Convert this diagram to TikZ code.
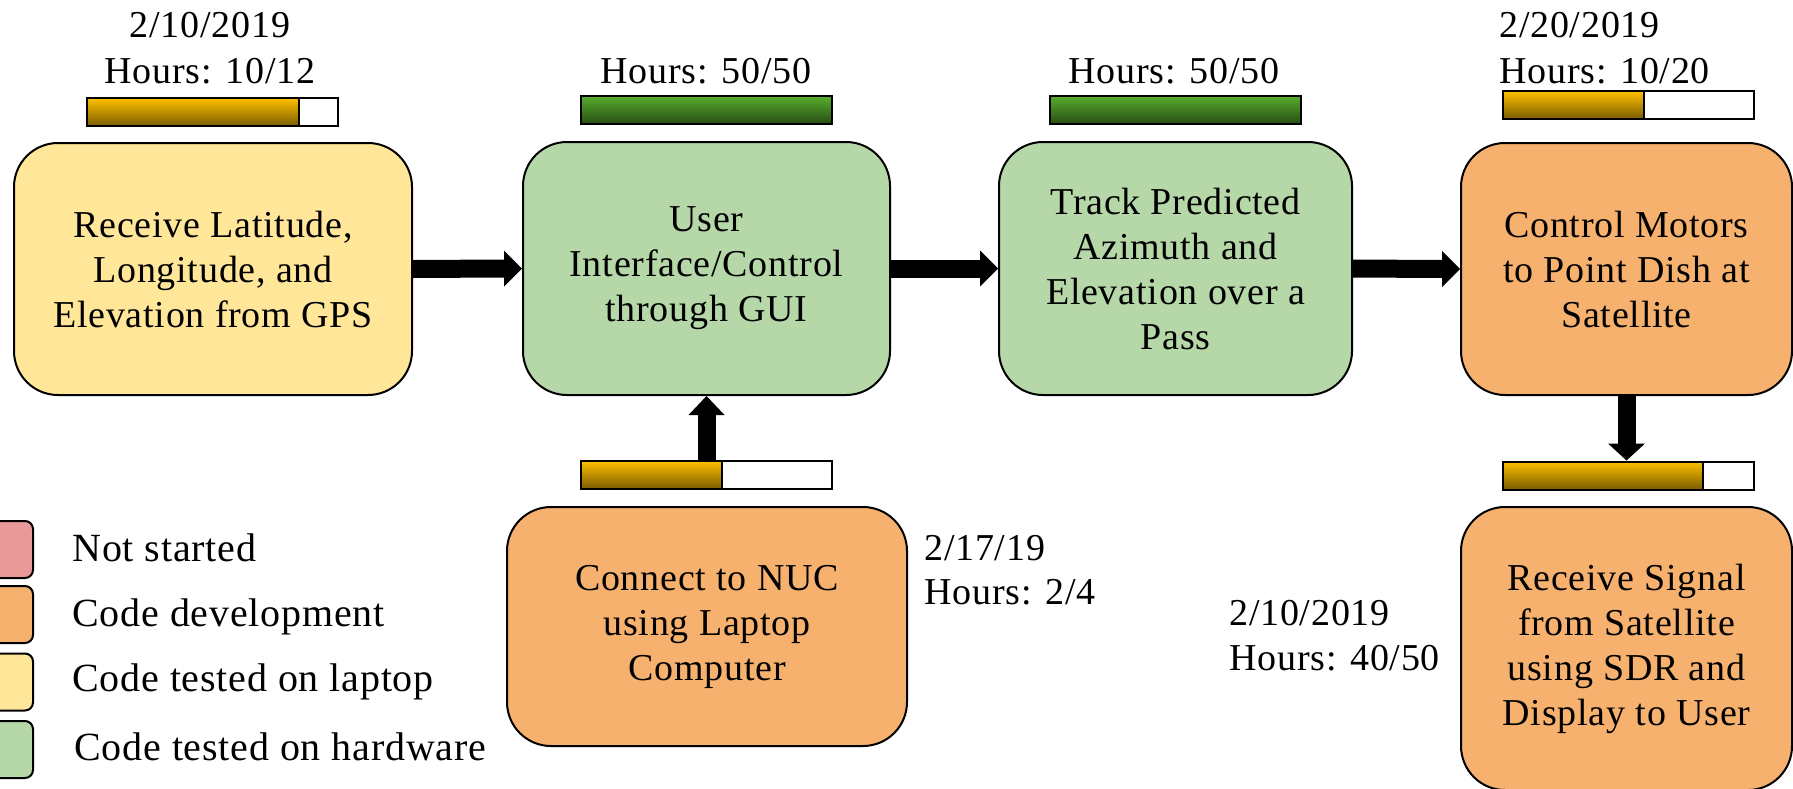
\documentclass[tikz,border=0pt]{standalone}
\usepackage{fontspec}
\setmainfont{Liberation Serif}[LetterSpace=2]
\usetikzlibrary{calc}

\definecolor{yel}{HTML}{FFE699}
\definecolor{grn}{HTML}{B6D7A8}
\definecolor{org}{HTML}{F5B16D}
\definecolor{pnk}{HTML}{EA9999}
\definecolor{goldtop}{HTML}{FFC000}
\definecolor{goldbot}{HTML}{7A5C00}
\definecolor{greentop}{HTML}{5AAE2E}
\definecolor{greenbot}{HTML}{264F12}

\begin{document}
\begin{tikzpicture}[x=0.5pt,y=-0.5pt,
  every node/.style={font=\fontsize{19pt}{22.5pt}\selectfont, inner sep=0pt},
  stepbox/.style={draw, line width=1pt, rounded corners=22pt, align=center},
  barbase/.style={draw, line width=1pt, minimum width=125.5pt, minimum height=14pt},
  goldbar/.style={barbase, fill=white,
    path picture={\draw[line width=1pt, top color=goldtop, bottom color=goldbot]
      (path picture bounding box.south west) rectangle
      ($(path picture bounding box.north west)!#1!(path picture bounding box.north east)$);}},
  greenbar/.style={barbase, top color=greentop, bottom color=greenbot},
  shaft/.style={line width=9pt},
  legsq/.style={draw, line width=1pt, rounded corners=4pt, minimum size=28.5pt},
  lbl/.style={anchor=base},
  lblleft/.style={anchor=base west},
  legtext/.style={anchor=base west, font=\fontsize{20pt}{24pt}\selectfont},
]
\useasboundingbox (0,0) rectangle (1793,788);

% process steps
\node[stepbox, fill=yel, minimum width=199pt, minimum height=126pt] (b1) at (213,269)
  {Receive Latitude,\\Longitude, and\\Elevation from GPS};
\node[stepbox, fill=grn, minimum width=183.5pt, minimum height=126.5pt] (b2) at (706.5,268.5)
  {User\\Interface/Control\\through GUI};
\node[stepbox, fill=grn, minimum width=176.5pt, minimum height=126.5pt] (b3) at (1175.5,268.5)
  {Track Predicted\\Azimuth and\\Elevation over a\\Pass};
\node[stepbox, fill=org, minimum width=165.5pt, minimum height=126pt] (b4) at (1626.5,269)
  {Control Motors\\to Point Dish at\\Satellite};
\node[stepbox, fill=org, minimum width=200pt, minimum height=119.5pt] (b5) at (707,626.5)
  {Connect to NUC\\using Laptop\\Computer};
\node[stepbox, fill=org, minimum width=165.5pt, minimum height=141.5pt] (b6) at (1626.5,648.5)
  {Receive Signal\\from Satellite\\using SDR and\\Display to User};

% progress bars
\node[goldbar=0.845] (p1) at (212.5,112) {};
\node[greenbar] (p2) at (706,109.5) {};
\node[greenbar] (p3) at (1175.5,109.5) {};
\node[goldbar=0.563] (p4) at (1628,105) {};
\node[goldbar=0.56] (p5) at (706.5,475) {};
\node[goldbar=0.80] (p6) at (1628,475.5) {};

% dates and hours
\node[lbl] (d1) at (210,37) {2/10/2019};
\node[lbl] (h1) at (210,83) {Hours: 10/12};
\node[lbl] (h2) at (706,83) {Hours: 50/50};
\node[lbl] (h3) at (1174,83) {Hours: 50/50};
\node[lblleft] (d4) at (1499,37) {2/20/2019};
\node[lblleft] (h4) at (1499,83) {Hours: 10/20};
\node[lblleft] (d5) at (924,560) {2/17/19};
\node[lblleft] (h5) at (924,604) {Hours: 2/4};
\node[lblleft] (d6) at (1229,625) {2/10/2019};
\node[lblleft] (h6) at (1229,670) {Hours: 40/50};

% flow arrows: thick shaft plus a triangular head ending on the target
\draw[shaft] (b1.east) -- ($(b2.west)+(-17,0)$);
\fill ($(b2.west)+(-18,-18)$) -- (b2.west) -- ($(b2.west)+(-18,18)$) -- cycle;
\draw[shaft] (b2.east) -- ($(b3.west)+(-17,0)$);
\fill ($(b3.west)+(-18,-18)$) -- (b3.west) -- ($(b3.west)+(-18,18)$) -- cycle;
\draw[shaft] (b3.east) -- ($(b4.west)+(-17,0)$);
\fill ($(b4.west)+(-18,-18)$) -- (b4.west) -- ($(b4.west)+(-18,18)$) -- cycle;
\draw[shaft] (p5.north) -- ($(b2.south)+(0,18)$);
\fill ($(b2.south)+(-18,19)$) -- (b2.south) -- ($(b2.south)+(18,19)$) -- cycle;
\coordinate (dtip) at (b4.south |- p6.north);
\draw[shaft] (b4.south) -- ($(dtip)+(0,-16)$);
\fill ($(dtip)+(-18.5,-17)$) -- (dtip) -- ($(dtip)+(18.5,-17)$) -- cycle;

% legend
\node[legsq, fill=pnk] (k1) at (4.5,549.5) {};
\node[legsq, fill=org] (k2) at (4.5,614.5) {};
\node[legsq, fill=yel] (k3) at (4.5,682) {};
\node[legsq, fill=grn] (k4) at (4.5,749.5) {};
\node[legtext] (t1) at (72,561) {Not started};
\node[legtext] (t2) at (72,626) {Code development};
\node[legtext] (t3) at (72,691) {Code tested on laptop};
\node[legtext] (t4) at (74,760) {Code tested on hardware};
\end{tikzpicture}
\end{document}
